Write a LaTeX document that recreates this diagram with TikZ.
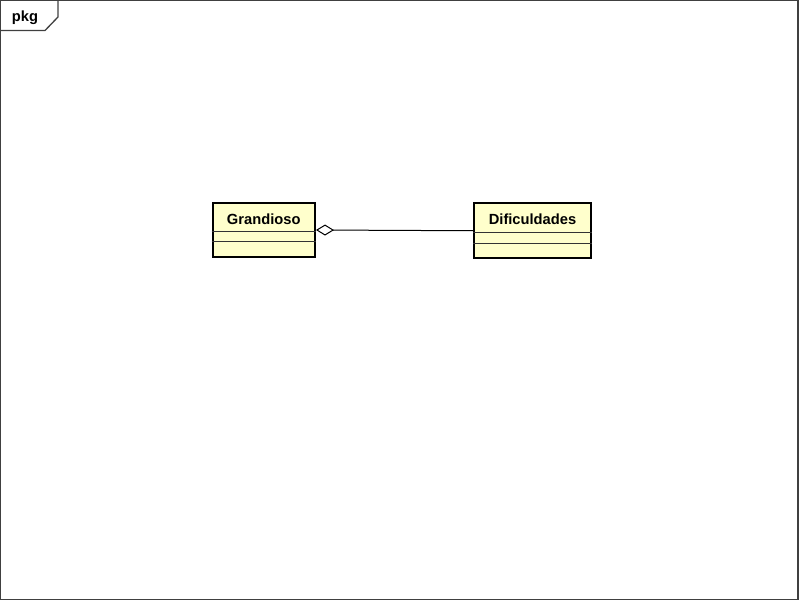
\documentclass[tikz,border=0pt]{standalone}
\usepackage{fontspec}
\setmainfont{Liberation Sans}
\usetikzlibrary{arrows.meta}
\definecolor{classfill}{RGB}{255,255,204}
\definecolor{framegray}{RGB}{64,64,64}

\begin{document}
\begin{tikzpicture}[x=1pt,y=-1pt,
	classbox/.style={rectangle, draw=black, line width=2pt, fill=classfill, inner sep=0pt},
	classname/.style={font=\fontsize{14.7}{17}\selectfont\bfseries, anchor=north, inner sep=0pt},
	compart/.style={line width=1.2pt, draw=black!80}]
	\useasboundingbox (0,0) rectangle (800,601);
	\draw [framegray, line width=1.3pt] (0.5,0.5) rectangle (798,599.5);
	\draw [framegray, line width=1.3pt] (0.5,30.5) -- (45,30.5) -- (58,17) -- (58,0.5);
	\node at (25,18) [font=\fontsize{14.7}{17}\selectfont\bfseries] (pkg) {pkg};

	\node at (263.75,230) [classbox, minimum width=102.5pt, minimum height=54pt] (gra) {};
	\node at (532.5,230.75) [classbox, minimum width=117pt, minimum height=54.5pt] (dif) {};
	\node at ([yshift=-11.5pt]gra.north) [classname] (graname) {Grandioso};
	\node at ([yshift=-11.5pt]dif.north) [classname] (difname) {Dificuldades};

	\draw [compart] ([yshift=-29.5pt]gra.north west) -- ([yshift=-29.5pt]gra.north east);
	\draw [compart] ([yshift=-39.5pt]gra.north west) -- ([yshift=-39.5pt]gra.north east);
	\draw [compart] ([yshift=-30pt]dif.north west) -- ([yshift=-30pt]dif.north east);
	\draw [compart] ([yshift=-41pt]dif.north west) -- ([yshift=-41pt]dif.north east);

	\draw [-{Diamond[open, length=18pt, width=11pt]}, line width=1pt] (dif.west) -- (gra.east);
\end{tikzpicture}
\end{document}
